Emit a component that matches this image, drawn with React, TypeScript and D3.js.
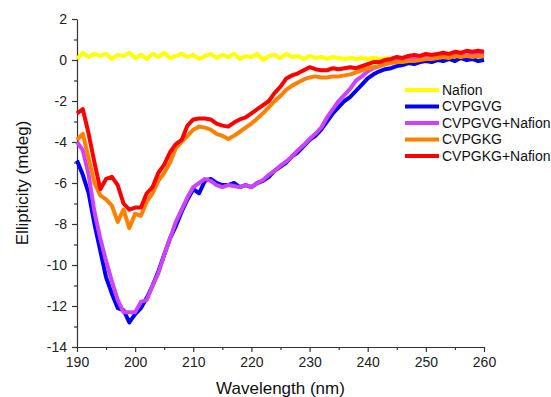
import * as d3 from 'd3';
import { useRef, useEffect } from 'react';

// wavelength grid, 1 nm steps
const wavelengths = d3.range(190, 261);

const nafion = [
  0.05, 0.35, 0.15, 0.3, 0.2, 0.3, 0.05, 0.25, 0.2, 0.35,
  0.1, 0.25, 0.05, 0.3, 0.15, 0.35, 0.1, 0.2, 0.3, 0.15,
  0.25, 0.05, 0.2, 0.3, 0.1, 0.25, 0.15, 0.3, 0.05, 0.2,
  0.15, 0.3, 0.0, 0.2, 0.25, 0.1, 0.3, 0.15, 0.2, 0.05,
  0.2, 0.1, 0.15, 0.05, 0.15, 0.1, 0.05, 0.1, 0.05, 0.1,
  0.05, 0.1, 0.05, 0.1, 0.05, 0.1, 0.05, 0.1, 0.05, 0.1,
  0.05, 0.1, 0.05, 0.1, 0.05, 0.1, 0.05, 0.1, 0.05, 0.1, 0.05,
];

const cvpgvg = [
  -4.9, -5.6, -6.5, -8.0, -9.3, -10.6, -11.4, -12.1, -12.2, -12.8,
  -12.4, -12.1, -11.6, -11.0, -10.3, -9.5, -8.7, -8.1, -7.4, -6.8,
  -6.3, -6.5, -5.9, -5.8, -6.0, -6.1, -6.1, -6.0, -6.2, -6.1,
  -6.2, -6.0, -5.9, -5.7, -5.4, -5.2, -5.0, -4.7, -4.5, -4.2,
  -3.9, -3.7, -3.4, -3.0, -2.6, -2.3, -2.0, -1.8, -1.5, -1.2,
  -0.9, -0.7, -0.55, -0.45, -0.4, -0.3, -0.25, -0.15, -0.2, -0.1,
  -0.05, -0.1, 0.0, -0.05, 0.05, -0.05, 0.1, 0.0, 0.05, -0.05, 0.0,
];

const cvpgvgNafion = [
  -4.0, -4.4, -5.6, -7.4, -8.7, -9.8, -10.8, -11.7, -12.3, -12.3,
  -12.3, -11.8, -11.7, -11.0, -10.4, -9.5, -8.7, -7.9, -7.3, -6.7,
  -6.2, -6.0, -5.8, -5.9, -6.1, -6.2, -6.1, -6.15, -6.2, -6.1,
  -6.2, -6.0, -5.85, -5.6, -5.4, -5.15, -4.95, -4.7, -4.4, -4.15,
  -3.85, -3.6, -3.3, -2.8, -2.4, -2.0, -1.7, -1.4, -1.0, -0.8,
  -0.55, -0.4, -0.3, -0.2, -0.1, -0.05, 0.0, 0.05, 0.1, 0.1,
  0.15, 0.1, 0.2, 0.15, 0.25, 0.2, 0.3, 0.2, 0.3, 0.25, 0.3,
];

const cvpgkg = [
  -3.9, -3.6, -4.8, -6.0, -6.6, -6.8, -7.1, -7.9, -7.3, -8.2,
  -7.5, -7.6, -6.9, -6.5, -5.9, -5.5, -5.0, -4.3, -4.0, -3.7,
  -3.4, -3.25, -3.3, -3.4, -3.6, -3.7, -3.85, -3.7, -3.5, -3.3,
  -3.1, -2.85, -2.6, -2.3, -2.0, -1.75, -1.45, -1.25, -1.1, -0.95,
  -0.85, -0.8, -0.85, -0.85, -0.8, -0.8, -0.75, -0.7, -0.6, -0.5,
  -0.4, -0.35, -0.3, -0.2, -0.15, -0.1, -0.1, -0.05, -0.05, 0.0,
  0.05, 0.05, 0.1, 0.15, 0.1, 0.2, 0.15, 0.2, 0.15, 0.2, 0.2,
];

const cvpgkgNafion = [
  -2.6, -2.4, -3.6, -5.0, -6.3, -5.8, -5.7, -6.1, -7.0, -7.3,
  -7.2, -7.2, -6.5, -6.2, -5.5, -5.1, -4.5, -4.1, -3.9, -3.2,
  -2.9, -2.85, -2.85, -2.9, -3.1, -3.2, -3.25, -3.05, -2.9, -2.8,
  -2.6, -2.4, -2.2, -2.0, -1.6, -1.3, -0.9, -0.75, -0.65, -0.5,
  -0.35, -0.45, -0.5, -0.5, -0.4, -0.45, -0.4, -0.35, -0.4, -0.3,
  -0.2, -0.1, -0.1, 0.0, 0.05, 0.15, 0.1, 0.2, 0.25, 0.2,
  0.3, 0.25, 0.3, 0.35, 0.3, 0.4, 0.35, 0.45, 0.4, 0.45, 0.4,
];

const seriesNames = ['Nafion', 'CVPGVG', 'CVPGVG+Nafion', 'CVPGKG', 'CVPGKG+Nafion'];
const seriesValues = [nafion, cvpgvg, cvpgvgNafion, cvpgkg, cvpgkgNafion];
const seriesColors = ['#ffff00', '#0000ff', '#cc44f5', '#ff8000', '#ff0000'];

const xTicks = [190, 200, 210, 220, 230, 240, 250, 260];
const yTicks = [2, 0, -2, -4, -6, -8, -10, -12, -14];

const W = 551;
const H = 397;
const FONT = '"Liberation Sans", Arial, sans-serif';

const App = () => {
  const ref = useRef<SVGSVGElement>(null);

  useEffect(() => {
    if (!ref.current) return;
    const svg = d3.select(ref.current);
    svg.selectAll('*').remove();

    const x = d3.scaleLinear().domain([190, 260]).range([77, 484]);
    const y = d3.scaleLinear().domain([-14, 2]).range([347, 19]);

    // minor ticks
    svg.append('g')
      .attr('transform', `translate(0,${y(-14)})`)
      .call(d3.axisBottom(x).tickValues(d3.range(195, 260, 10)).tickSize(3).tickFormat(() => ''))
      .call(g => g.select('.domain').remove());
    svg.append('g')
      .attr('transform', `translate(${x(190)},0)`)
      .call(d3.axisLeft(y).tickValues(d3.range(-13, 2, 2)).tickSize(3).tickFormat(() => ''))
      .call(g => g.select('.domain').remove());

    // major axes
    const xAxis = svg.append('g')
      .attr('transform', `translate(0,${y(-14)})`)
      .call(d3.axisBottom(x).tickValues(xTicks).tickSize(5).tickSizeOuter(0).tickPadding(5));
    const yAxis = svg.append('g')
      .attr('transform', `translate(${x(190)},0)`)
      .call(d3.axisLeft(y).tickValues(yTicks).tickSize(5).tickSizeOuter(0).tickPadding(5)
        .tickFormat(d => String(d)));

    [xAxis, yAxis].forEach(g => {
      g.selectAll('text').attr('font-family', FONT).attr('font-size', 14).attr('fill', '#222');
    });
    svg.selectAll('.domain, .tick line').attr('stroke', '#333').attr('stroke-width', 1.2);

    const line = d3.line<number>()
      .x((_, i) => x(wavelengths[i]))
      .y(d => y(d));

    svg.append('g')
      .attr('fill', 'none')
      .attr('stroke-width', 4)
      .attr('stroke-linejoin', 'round')
      .selectAll('path')
      .data(seriesValues)
      .join('path')
      .attr('stroke', (_, i) => seriesColors[i])
      .attr('d', d => line(d));

    // legend
    const legend = svg.append('g')
      .selectAll('g')
      .data(seriesNames)
      .join('g')
      .attr('transform', (_, i) => `translate(405,${90 + i * 16.5})`);
    legend.append('line')
      .attr('x1', 0).attr('x2', 34)
      .attr('stroke-width', 4)
      .attr('stroke', (_, i) => seriesColors[i]);
    legend.append('text')
      .attr('x', 37)
      .attr('dy', '0.35em')
      .attr('font-family', FONT)
      .attr('font-size', 14)
      .attr('fill', '#111')
      .text(d => d);

    svg.append('text')
      .attr('x', (x(190) + x(260)) / 2)
      .attr('y', 394)
      .attr('text-anchor', 'middle')
      .attr('font-family', FONT)
      .attr('font-size', 17)
      .attr('fill', '#111')
      .text('Wavelength (nm)');

    svg.append('text')
      .attr('transform', `translate(28,${(y(2) + y(-14)) / 2}) rotate(-90)`)
      .attr('text-anchor', 'middle')
      .attr('font-family', FONT)
      .attr('font-size', 17)
      .attr('fill', '#111')
      .text('Ellipticity (mdeg)');
  }, []);

  return (
    <svg ref={ref} width={W} height={H}
      style={{ position: 'absolute', left: 0, top: 0, background: '#fff' }} />
  );
};

export default App;
